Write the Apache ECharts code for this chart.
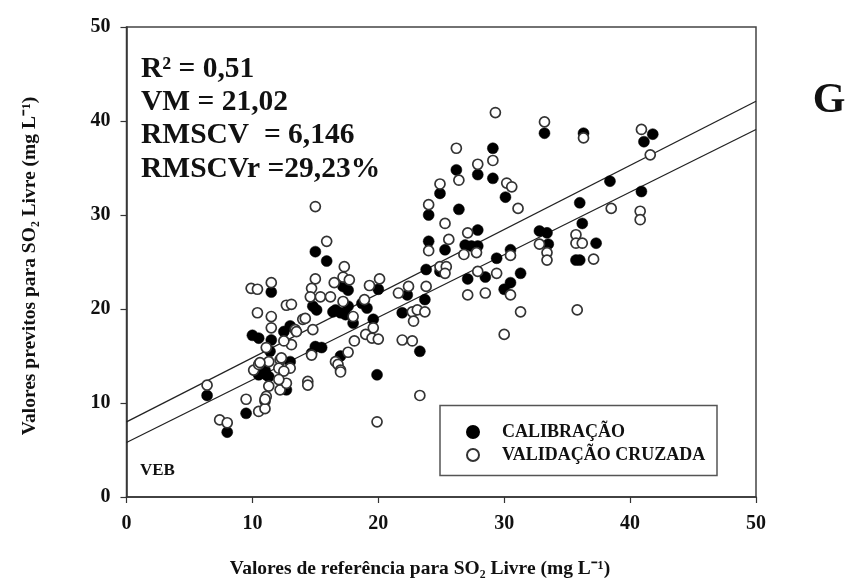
<!DOCTYPE html>
<html><head><meta charset="utf-8">
<script src="https://cdn.jsdelivr.net/npm/echarts@6/dist/echarts.min.js"></script>
<style>html,body{margin:0;padding:0;background:#fff}#c{width:846px;height:584px}</style>
</head><body><div id="c"></div>
<script>
const xTicks = [0, 10, 20, 30, 40, 50];
const yTicks = [0, 10, 20, 30, 40, 50];
const legendNames = ['CALIBRAÇÃO', 'VALIDAÇÃO CRUZADA'];
const calibracao = [
  [6.4,10.8],[8.0,6.9],[9.5,8.9],[11.5,21.8],[10.0,17.2],[10.5,16.9],[11.5,16.7],[13.0,18.2],[12.5,17.6],[11.4,15.5],
  [10.5,13.0],[11.1,13.0],[11.0,13.5],[13.0,14.4],[12.7,11.4],[14.8,20.3],[15.1,19.9],[15.0,16.0],[15.5,15.9],[16.6,19.9],
  [15.0,26.1],[15.9,25.1],[17.2,22.4],[16.4,19.7],[17.0,19.6],[17.6,20.3],[17.4,19.4],[18.0,18.5],[19.1,20.1],[20.0,22.1],
  [19.6,18.9],[19.9,13.0],[17.0,15.0],[14.7,15.3],[10.3,13.4],[11.3,12.8],[11.0,10.2],[22.3,21.5],[21.9,19.6],[23.7,21.0],
  [23.3,15.5],[24.0,30.0],[24.0,27.2],[23.8,24.2],[24.9,32.3],[25.3,26.3],[24.9,24.0],[33.2,38.7],[36.3,38.7],[29.1,37.1],
  [29.1,33.9],[27.9,34.3],[26.2,34.8],[30.1,31.9],[26.4,30.6],[27.9,28.4],[26.9,26.8],[27.4,26.7],[27.9,26.7],[30.5,26.3],
  [29.4,25.4],[27.1,23.2],[28.5,23.4],[31.3,23.8],[30.5,22.8],[30.0,22.1],[32.8,28.3],[33.4,28.1],[33.5,26.9],[36.0,31.3],
  [36.2,29.1],[37.3,27.0],[35.7,25.2],[36.0,25.2],[38.4,33.6],[41.8,38.6],[41.1,37.8],[40.9,32.5],[17.6,22.0],[18.7,20.6]
];
const validacao = [
  [6.4,11.9],[7.4,8.2],[8.0,7.9],[9.5,10.4],[10.5,9.1],[11.0,9.4],[9.9,22.2],[10.4,22.1],[11.5,22.8],[10.4,19.6],
  [11.5,19.2],[11.5,18.0],[12.7,20.4],[13.1,20.5],[13.4,17.8],[14.0,18.9],[13.1,16.2],[11.1,15.9],[10.1,13.5],[10.5,14.1],
  [11.3,14.4],[12.2,14.6],[12.1,13.7],[13.0,13.7],[12.5,13.4],[11.3,11.8],[11.1,10.7],[11.0,10.4],[12.2,11.4],[12.7,12.1],
  [14.4,12.3],[14.4,11.9],[14.2,19.0],[14.8,17.8],[14.7,15.1],[16.6,14.4],[16.8,14.1],[15.0,30.9],[15.9,27.2],[17.3,24.5],
  [17.2,23.4],[17.7,23.1],[16.5,22.8],[15.0,23.2],[14.7,22.2],[14.6,21.3],[15.4,21.3],[16.2,21.3],[17.2,20.8],[18.0,19.2],
  [18.9,21.0],[19.3,22.5],[20.1,23.2],[19.6,18.0],[19.0,17.3],[19.5,16.9],[20.0,16.8],[19.9,8.0],[18.1,16.6],[17.6,15.4],
  [17.0,13.5],[17.0,13.3],[12.5,16.6],[13.5,17.6],[10.6,14.3],[12.3,14.8],[12.1,12.5],[23.8,22.4],[22.4,22.4],[21.6,21.7],
  [22.7,19.7],[23.1,19.9],[23.7,19.7],[22.8,18.7],[21.9,16.7],[22.7,16.6],[23.3,10.8],[24.0,31.1],[24.0,26.2],[24.9,33.3],
  [25.3,29.1],[24.9,24.5],[25.4,24.5],[25.3,23.8],[29.3,40.9],[33.2,39.9],[36.3,38.2],[26.2,37.1],[29.1,35.8],[27.9,35.4],
  [26.4,33.7],[30.2,33.4],[30.6,33.0],[31.1,30.7],[25.6,27.4],[27.1,28.1],[26.8,25.8],[27.8,26.0],[30.5,25.7],[27.9,24.0],
  [29.4,23.8],[27.1,21.5],[28.5,21.7],[30.5,21.5],[31.3,19.7],[30.0,17.3],[32.8,26.9],[33.4,26.0],[33.4,25.2],[35.7,27.9],
  [35.7,27.0],[36.2,27.0],[37.1,25.3],[35.8,19.9],[40.9,39.1],[41.6,36.4],[38.5,30.7],[40.8,30.4],[40.8,29.5]
];
const retaSuperior = [[0, 8.0], [50, 42.1]];
const retaInferior = [[0, 5.8], [50, 39.1]];
const statsText = ['R² = 0,51', 'VM = 21,02', 'RMSCV  = 6,146', 'RMSCVr =29,23%'];
const xName = 'Valores de referência para SO₂ Livre (mg L⁻¹)';
const yName = 'Valores previtos para SO₂ Livre (mg L⁻¹)';

const FONT = '"Liberation Serif","Times New Roman",serif';
const chart = echarts.init(document.getElementById('c'), null, {renderer: 'canvas'});
const txt = (s, x, y, size, extra) => Object.assign({
  type: 'text', x: x, y: y, z: 10,
  style: Object.assign({text: s, font: 'bold ' + size + 'px ' + FONT, fill: '#111', verticalAlign: 'middle'}, extra || {})
});
const graphics = [];
statsText.forEach((s, i) => graphics.push(txt(s, 141, 69 + i * 33.3, 29.5)));
graphics.push(txt('G', 829, 101, 42, {align: 'center'}));
graphics.push(txt('VEB', 140, 471, 17));
graphics.push(txt(xName, 420, 569, 19.5, {align: 'center'}));
graphics.push(Object.assign(txt(yName, 0, 0, 19.5, {align: 'center'}), {x: 30, y: 266, rotation: Math.PI / 2}));
graphics.push({type: 'rect', shape: {x: 440, y: 405.5, width: 277, height: 70}, z: 5,
  style: {fill: '#fff', stroke: '#555', lineWidth: 1.5}});

chart.setOption({
  animation: false,
  backgroundColor: '#fff',
  grid: {left: 126.5, right: 90, top: 27, bottom: 87, show: true, borderColor: '#444', borderWidth: 1.5, backgroundColor: 'transparent'},
  xAxis: {type: 'value', min: xTicks[0], max: xTicks[xTicks.length - 1], interval: 10,
    axisLine: {lineStyle: {color: '#333', width: 1.5}},
    axisTick: {show: true, length: 6, lineStyle: {color: '#333', width: 1.2}},
    splitLine: {show: false},
    axisLabel: {margin: 17, color: '#111', fontFamily: FONT, fontWeight: 'bold', fontSize: 20}},
  yAxis: {type: 'value', min: yTicks[0], max: yTicks[yTicks.length - 1], interval: 10,
    axisLine: {show: true, lineStyle: {color: '#333', width: 1.5}},
    axisTick: {show: true, length: 6, lineStyle: {color: '#333', width: 1.2}},
    splitLine: {show: false},
    axisLabel: {margin: 16, color: '#111', fontFamily: FONT, fontWeight: 'bold', fontSize: 20}},
  legend: {
    data: legendNames, orient: 'vertical', left: 466, top: 423, itemWidth: 12, itemHeight: 12, itemGap: 5, z: 20,
    icon: 'circle', padding: 0,
    textStyle: {fontFamily: FONT, fontWeight: 'bold', fontSize: 18, color: '#111', padding: [0, 0, 0, 18]}
  },
  graphic: graphics,
  series: [
    {type: 'line', data: retaSuperior, symbol: 'none', lineStyle: {color: '#222', width: 1.3}, silent: true, z: 1},
    {type: 'line', data: retaInferior, symbol: 'none', lineStyle: {color: '#222', width: 1.3}, silent: true, z: 1},
    {name: legendNames[0], type: 'scatter', data: calibracao, symbol: 'circle', symbolSize: 11, z: 2,
      itemStyle: {color: '#000', borderColor: '#000', borderWidth: 0.5, opacity: 1}},
    {name: legendNames[1], type: 'scatter', data: validacao, symbol: 'circle', symbolSize: 10, z: 3,
      itemStyle: {color: '#fff', borderColor: '#333', borderWidth: 1.7, opacity: 1}}
  ]
});
</script></body></html>
